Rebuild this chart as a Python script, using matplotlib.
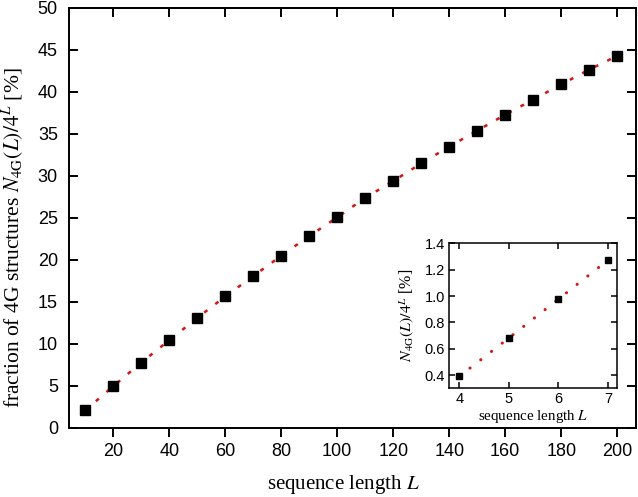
import matplotlib
matplotlib.use("Agg")
import matplotlib.pyplot as plt

# ---- data ----
L_main = [10, 20, 30, 40, 50, 60, 70, 80, 90, 100,
          110, 120, 130, 140, 150, 160, 170, 180, 190, 200]
frac_main = [2.1, 4.97, 7.79, 10.45, 13.1, 15.66, 18.08, 20.5, 22.85, 25.08,
             27.4, 29.4, 31.5, 33.5, 35.4, 37.3, 39.1, 40.9, 42.67, 44.3]
x_ticks_main = [20, 40, 60, 80, 100, 120, 140, 160, 180, 200]
y_ticks_main = [0, 5, 10, 15, 20, 25, 30, 35, 40, 45, 50]

L_inset = [4, 5, 6, 7]
frac_inset = [0.39, 0.681, 0.976, 1.272]
x_ticks_inset = [4, 5, 6, 7]
y_ticks_inset = [0.4, 0.6, 0.8, 1.0, 1.2, 1.4]

plt.rcParams['font.family'] = ['Liberation Sans', 'DejaVu Sans']
plt.rcParams['mathtext.fontset'] = 'stix'

fig = plt.figure(figsize=(6.38, 4.97), dpi=100)
ax = fig.add_axes([69/638, 1 - 428/497, (636 - 69)/638, (428 - 8)/497])

red = '#d41515'
ax.plot(L_main, frac_main, color=red, lw=1.8, linestyle=(0, (1.6, 4.0)),
        zorder=2)
ax.plot(L_main, frac_main, linestyle='none', marker='s', ms=6.8,
        color='black', zorder=3)

ax.set_xlim(4.2, 206.7)
ax.set_ylim(0, 50)
ax.set_xticks(x_ticks_main)
ax.set_yticks(y_ticks_main)
ax.tick_params(axis='both', labelsize=13, width=1.4, length=6.5)
ax.tick_params(axis='x', direction='out', pad=4, top=False)
ax.tick_params(axis='y', direction='in', pad=8, right=True)
sec = ax.secondary_xaxis('top')
sec.set_xticks(x_ticks_main)
sec.tick_params(direction='in', length=6.5, width=1.4, labeltop=False)
sec.spines['top'].set_linewidth(1.4)
for s in ax.spines.values():
    s.set_linewidth(1.4)

ax.set_xlabel(r'sequence length $L$', family='Liberation Serif',
              fontsize=15)
ax.xaxis.label.set_va('baseline')
ax.xaxis.set_label_coords((343 - 69) / 567, (428 - 489) / 420)
ax.set_ylabel(r'fraction of 4G structures $N_{\rm 4G}(L)/4^L$ [%]',
              family='Liberation Serif', fontsize=15.5)
ax.yaxis.label.set_va('baseline')
ax.yaxis.set_label_coords((20 - 69) / 567, (428 - 238) / 420)

# ---- inset ----
ins = fig.add_axes([449.3/638, 1 - 388.3/497, (617.3 - 449.3)/638,
                    (388.3 - 243.3)/497])
ins.set_facecolor('white')
ins.plot(L_inset, frac_inset, color=red, lw=2.2,
         linestyle=(0, (0.05, 4.4)), dash_capstyle='round', zorder=2)
ins.plot(L_inset, frac_inset, linestyle='none', marker='s', ms=3.8,
         color='black', zorder=3)
ins.set_xlim(3.8, 7.19)
ins.set_ylim(0.3, 1.4)
ins.set_xticks(x_ticks_inset)
ins.set_yticks(y_ticks_inset)
ins.set_yticklabels([f'{v:.1f}' for v in y_ticks_inset])
ins.tick_params(direction='in', labelsize=10.5, length=4, width=1.1,
                top=True, right=True, pad=3)
for s in ins.spines.values():
    s.set_linewidth(1.1)
ins.set_xlabel(r'sequence length $L$', family='Liberation Serif',
               fontsize=10.8, labelpad=1)
ins.set_ylabel(r'$N_{\rm 4G}(L)/4^L$ [%]', family='Liberation Serif',
               fontsize=11.5, labelpad=6)

fig.savefig('out.png', dpi=100)
